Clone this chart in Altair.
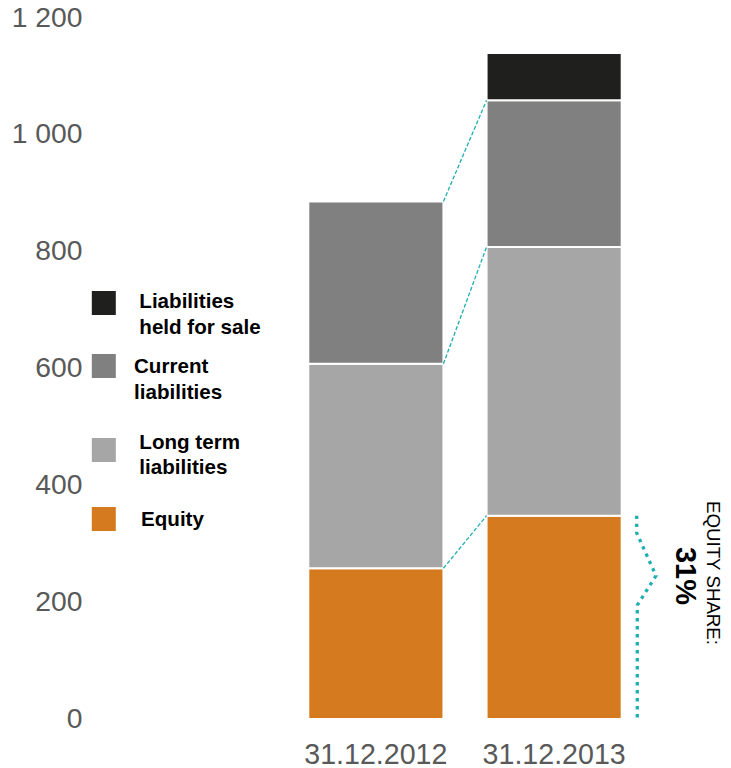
import altair as alt
import pandas as pd

FONT = "Liberation Sans"

# ---- data ----
dates = ["31.12.2012", "31.12.2013"]
categories = ["Equity", "Long term liabilities", "Current liabilities", "Liabilities held for sale"]
equity = [258, 348]
long_term = [350, 460]
current = [278, 251]
held_for_sale = [0, 81]
y_ticks = [0, 200, 400, 600, 800, 1000, 1200]
legend_order = ["Liabilities held for sale", "Current liabilities", "Long term liabilities", "Equity"]
legend_lines = [["Liabilities", "held for sale"], ["Current", "liabilities"], ["Long term", "liabilities"], ["Equity"]]
colors = ["#D57A1F", "#A6A6A6", "#808080", "#1F1F1E"]
TEAL = "#1FAFB2"

# ---- layout (pixels, relative to plot origin) ----
LEG_SQ_X = 3.8
LEG_SQ_Y = [285, 348, 432, 501]
LEG_TX_X = [39.3, 34, 39.3, 41]
LEG_TX_Y = [[284, 310], [349, 375], [425, 450], [502]]
BRACE_X = [536.7, 536.7, 556, 537.3, 537.3]
BRACE_F = [1.0, 0.915, 0.705, 0.56, 0.005]

series = [equity, long_term, current, held_for_sale]
rows = []
for ci, (cat, vals) in enumerate(zip(categories, series)):
    for d, v in zip(dates, vals):
        if v > 0:
            rows.append({"date": d, "category": cat, "value": v, "order": ci})
bars_df = pd.DataFrame(rows)

# connectors between cumulative tops
conn = []
cum0 = 0
cum1 = 0
for cat, vals in zip(categories[:3], series[:3]):
    cum0 += vals[0]
    cum1 += vals[1]
    conn.append({"from": dates[0], "to": dates[1], "y0": cum0, "y1": cum1})
conn_df = pd.DataFrame(conn)

brace_df = pd.DataFrame({"i": list(range(len(BRACE_X))), "px": BRACE_X,
                         "v": [f * equity[1] for f in BRACE_F]})

total13 = sum(s[1] for s in series)
share_df = pd.DataFrame({"share": [f"{round(100 * equity[1] / total13)}%"], "lab": ["EQUITY SHARE:"]})

leg_sq_df = pd.DataFrame({"category": legend_order, "px": [LEG_SQ_X] * 4, "py": LEG_SQ_Y})
lt = []
for k, lines in enumerate(legend_lines):
    for j, ln in enumerate(lines):
        lt.append({"t": ln, "px": LEG_TX_X[k], "py": LEG_TX_Y[k][j]})
leg_tx_df = pd.DataFrame(lt)

# ---- scales ----
def xscale():
    return alt.Scale(domain=dates, range=[208.3, 521.7], paddingInner=0.242, paddingOuter=0)

def yscale():
    return alt.Scale(domain=[0, 1200], nice=False, zero=True)

color = alt.Color("category:N", scale=alt.Scale(domain=categories, range=colors), legend=None)

bars = alt.Chart(bars_df).mark_bar(stroke="white", strokeWidth=2).encode(
    x=alt.X("date:N", sort=dates, scale=xscale(),
            axis=alt.Axis(title=None, labelFontSize=28.6, labelColor="#595959", labelFont=FONT,
                          domain=False, ticks=False, labelPadding=21, labelAngle=0)),
    y=alt.Y("value:Q", stack="zero", scale=yscale(),
            axis=alt.Axis(title=None, values=y_ticks, labelFontSize=28.3, labelColor="#595959",
                          labelFont=FONT, domain=False, ticks=False, grid=False, labelPadding=18,
                          labelExpr="replace(format(datum.value, ','), ',', ' ')")),
    color=color,
    order=alt.Order("order:Q"),
)

connectors = alt.Chart(conn_df).mark_rule(color=TEAL, strokeWidth=1.3, strokeDash=[4, 2]).encode(
    x=alt.X("from:N", bandPosition=1, scale=xscale(), axis=None),
    x2=alt.X2("to", bandPosition=0),
    y=alt.Y("y0:Q", scale=yscale(), axis=None),
    y2="y1",
)

brace = alt.Chart(brace_df).mark_line(color=TEAL, strokeWidth=3.3, strokeDash=[3.3, 4.7],
                                      strokeCap="butt").encode(
    x=alt.X("px:Q", scale=None, axis=None),
    y=alt.Y("v:Q", scale=yscale(), axis=None),
    order=alt.Order("i:Q"),
)

share_txt = alt.Chart(share_df).mark_text(angle=90, fontSize=29, fontWeight="bold", font=FONT,
                                          color="black", align="center", baseline="middle").encode(
    x=alt.value(584.7), y=alt.value(558), text="share:N")
share_lab = alt.Chart(share_df).mark_text(angle=90, fontSize=18.7, font=FONT, color="black",
                                          align="center", baseline="middle").encode(
    x=alt.value(612.7), y=alt.value(555), text="lab:N")

leg_sq = alt.Chart(leg_sq_df).mark_square(size=576, opacity=1, filled=True).encode(
    x=alt.X("px:Q", scale=None, axis=None),
    y=alt.Y("py:Q", scale=None, axis=None),
    color=color,
)
leg_tx = alt.Chart(leg_tx_df).mark_text(align="left", baseline="middle", fontSize=20.6,
                                        fontWeight="bold", font=FONT, color="black").encode(
    x=alt.X("px:Q", scale=None, axis=None),
    y=alt.Y("py:Q", scale=None, axis=None),
    text="t:N",
)

chart = alt.layer(bars, connectors, brace, share_txt, share_lab, leg_sq, leg_tx).resolve_scale(
    x="independent", y="independent"
).properties(
    width=631, height=701,
    autosize=alt.AutoSizeParams(type="none"),
    padding={"left": 100, "top": 18, "right": 0, "bottom": 49},
    background="white",
).configure_view(stroke=None)

chart.save("out.html", embed_options={"renderer": "svg", "actions": False})
